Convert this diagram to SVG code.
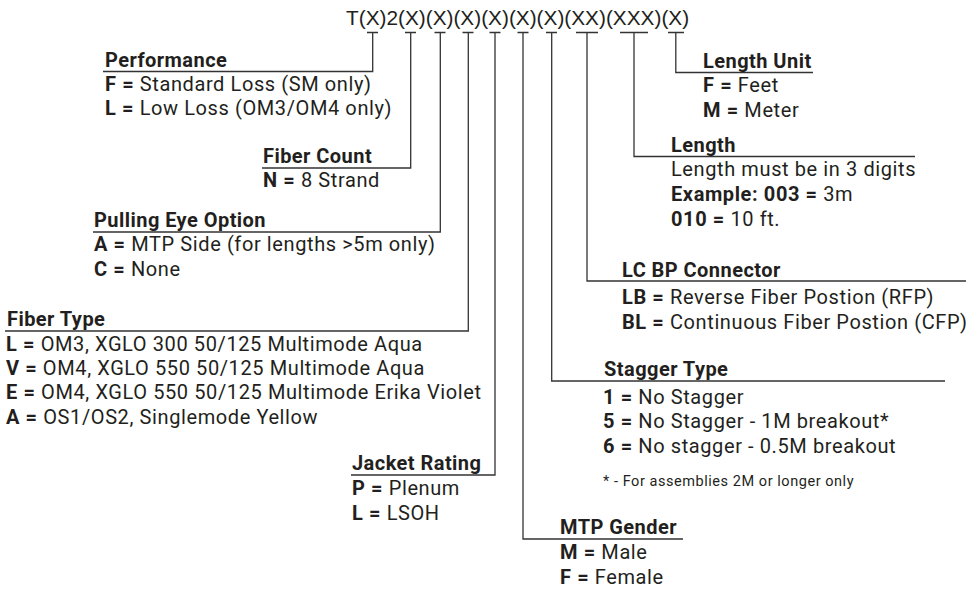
<svg xmlns="http://www.w3.org/2000/svg" width="966" height="590" viewBox="0 0 966 590">
<style>
text{font-family:Roboto,"Liberation Sans",sans-serif;fill:#231f20}
.h{font-weight:bold;font-size:20px;letter-spacing:0.45px}
.t{font-size:20px;letter-spacing:0.6px}
.b{font-weight:bold}
.n{font-size:14.5px;letter-spacing:0.55px}
.code{font-family:"Liberation Sans",Arial,sans-serif;font-size:20.8px}
.ln{stroke:#333;stroke-width:1.3;fill:none}
</style>
<rect width="966" height="590" fill="#fff"/>
<text class="code" x="346" y="25">T(X)2(X)(X)(X)(X)(X)(X)(XX)(XXX)(X)</text>
<g id="connectors" class="ln">
<path d="M367 32.5H378M372.7 32.5V71.5H103"/>
<path d="M405 32.5H416M410.7 32.5V168H262"/>
<path d="M434.5 32.5H445.5M440.3 32.5V232H93"/>
<path d="M462.5 32.5H473.5M468.3 32.5V331H5"/>
<path d="M489.5 32.5H500.5M495 32.5V475H351"/>
<path d="M517.5 32.5H528.5M523 32.5V539H683"/>
<path d="M546 32.5H557M551.7 32.5V381H945"/>
<path d="M576 32.5H598M587 32.5V281H966"/>
<path d="M620 32.5H648M634 32.5V156.5H915"/>
<path d="M668 32.5H684M675.8 32.5V72.5H813"/>
</g>
<g id="performance">
<text class="h" x="105" y="66.5">Performance</text>
<text class="t" x="105" y="91"><tspan class="b">F =</tspan> Standard Loss (SM only)</text>
<text class="t" x="105" y="115"><tspan class="b">L =</tspan> Low Loss (OM3/OM4 only)</text>
</g>
<g id="fiber-count">
<text class="h" x="263" y="163">Fiber Count</text>
<text class="t" x="263" y="187"><tspan class="b">N =</tspan> 8 Strand</text>
</g>
<g id="pulling-eye">
<text class="h" x="94" y="227">Pulling Eye Option</text>
<text class="t" x="94" y="251"><tspan class="b">A =</tspan> MTP Side (for lengths &gt;5m only)</text>
<text class="t" x="94" y="276"><tspan class="b">C =</tspan> None</text>
</g>
<g id="fiber-type">
<text class="h" x="7" y="326">Fiber Type</text>
<text class="t" x="6" y="351"><tspan class="b">L =</tspan> OM3, XGLO 300 50/125 Multimode Aqua</text>
<text class="t" x="6" y="375"><tspan class="b">V =</tspan> OM4, XGLO 550 50/125 Multimode Aqua</text>
<text class="t" x="6" y="399"><tspan class="b">E =</tspan> OM4, XGLO 550 50/125 Multimode Erika Violet</text>
<text class="t" x="6" y="424"><tspan class="b">A =</tspan> OS1/OS2, Singlemode Yellow</text>
</g>
<g id="jacket-rating">
<text class="h" x="352" y="470">Jacket Rating</text>
<text class="t" x="352" y="495"><tspan class="b">P =</tspan> Plenum</text>
<text class="t" x="352" y="520"><tspan class="b">L =</tspan> LSOH</text>
</g>
<g id="mtp-gender">
<text class="h" x="560" y="534">MTP Gender</text>
<text class="t" x="560" y="559"><tspan class="b">M =</tspan> Male</text>
<text class="t" x="560" y="584"><tspan class="b">F =</tspan> Female</text>
</g>
<g id="stagger-type">
<text class="h" x="604" y="376">Stagger Type</text>
<text class="t" x="603" y="404"><tspan class="b">1 =</tspan> No Stagger</text>
<text class="t" x="603" y="428"><tspan class="b">5 =</tspan> No Stagger - 1M breakout*</text>
<text class="t" x="603" y="453"><tspan class="b">6 =</tspan> No stagger - 0.5M breakout</text>
<text class="n" x="603" y="486">* - For assemblies 2M or longer only</text>
</g>
<g id="lc-bp-connector">
<text class="h" x="622" y="276.5">LC BP Connector</text>
<text class="t" x="622" y="304"><tspan class="b">LB =</tspan> Reverse Fiber Postion (RFP)</text>
<text class="t" x="622" y="329"><tspan class="b">BL =</tspan> Continuous Fiber Postion (CFP)</text>
</g>
<g id="length">
<text class="h" x="671" y="152">Length</text>
<text class="t" x="671" y="176">Length must be in 3 digits</text>
<text class="t" x="671" y="201"><tspan class="b">Example: 003 =</tspan> 3m</text>
<text class="t" x="671" y="226"><tspan class="b">010 =</tspan> 10 ft.</text>
</g>
<g id="length-unit">
<text class="h" x="703" y="67.5">Length Unit</text>
<text class="t" x="703" y="92"><tspan class="b">F =</tspan> Feet</text>
<text class="t" x="703" y="117"><tspan class="b">M =</tspan> Meter</text>
</g>
</svg>
